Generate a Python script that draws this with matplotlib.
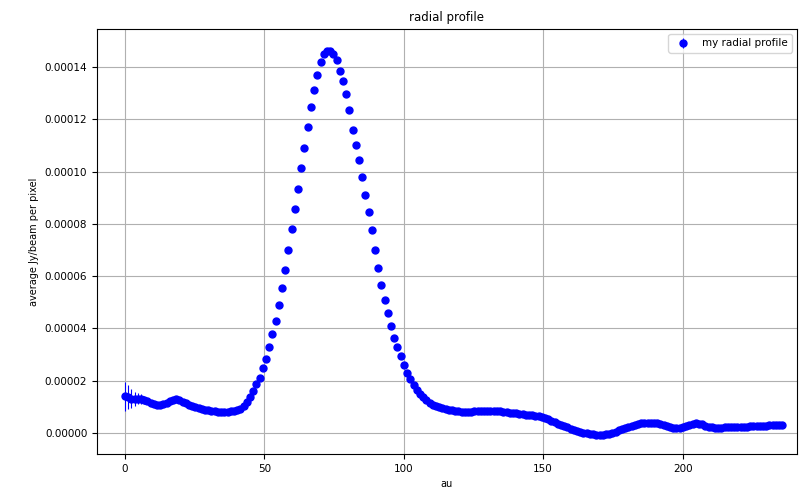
import matplotlib
matplotlib.use("Agg")
import matplotlib.pyplot as plt
import numpy as np

# radial profile, one value per pixel ring (units of 1e-5 Jy/beam)
profile = [
    1.40, 1.38, 1.32, 1.30, 1.32, 1.30, 1.28, 1.22, 1.16, 1.12,
    1.08, 1.07, 1.10, 1.15, 1.22, 1.28, 1.30, 1.26, 1.20, 1.14,
    1.07, 1.02, 0.98, 0.95, 0.92, 0.90, 0.88, 0.86, 0.84, 0.82,
    0.80, 0.80, 0.81, 0.83, 0.85, 0.88, 0.93, 1.02, 1.18, 1.38,
    1.62, 1.88, 2.12, 2.48, 2.85, 3.30, 3.78, 4.30, 4.90, 5.55,
    6.25, 7.00, 7.80, 8.55, 9.35, 10.15, 10.90, 11.70, 12.45, 13.10,
    13.70, 14.20, 14.50, 14.62, 14.60, 14.48, 14.25, 13.85, 13.45, 12.95,
    12.35, 11.60, 11.00, 10.45, 9.80, 9.10, 8.45, 7.75, 7.00, 6.30,
    5.65, 5.10, 4.60, 4.10, 3.65, 3.30, 2.95, 2.60, 2.30, 2.05,
    1.83, 1.65, 1.50, 1.38, 1.26, 1.16, 1.09, 1.03, 0.98, 0.95,
    0.92, 0.90, 0.88, 0.86, 0.84, 0.82, 0.80, 0.80, 0.81, 0.83,
    0.84, 0.84, 0.83, 0.84, 0.86, 0.86, 0.85, 0.84, 0.82, 0.80,
    0.78, 0.77, 0.76, 0.74, 0.72, 0.71, 0.69, 0.68, 0.66, 0.64,
    0.61, 0.58, 0.54, 0.48, 0.42, 0.36, 0.31, 0.26, 0.22, 0.17,
    0.12, 0.08, 0.05, 0.02, 0.00, -0.02, -0.04, -0.06, -0.07, -0.07,
    -0.05, -0.03, 0.01, 0.05, 0.10, 0.15, 0.20, 0.25, 0.29, 0.32,
    0.35, 0.37, 0.38, 0.39, 0.40, 0.39, 0.37, 0.34, 0.30, 0.26,
    0.23, 0.21, 0.20, 0.21, 0.23, 0.27, 0.31, 0.35, 0.37, 0.36,
    0.33, 0.29, 0.25, 0.22, 0.20, 0.20, 0.21, 0.22, 0.23, 0.22,
    0.23, 0.24, 0.24, 0.25, 0.25, 0.26, 0.27, 0.27, 0.28, 0.29,
    0.29, 0.30, 0.31, 0.30, 0.31, 0.30,
]

# uncertainty of the innermost rings, the rest stays small
err_inner = [0.55, 0.45, 0.36, 0.28, 0.22, 0.18, 0.15, 0.12, 0.10, 0.08]
err_outer = 0.03

au_per_pix = 1.15

profile = np.array(profile) * 1e-5
radius = np.arange(len(profile)) * au_per_pix
err = np.full(len(profile), err_outer)
err[:len(err_inner)] = err_inner
err = err * 1e-5

fig = plt.figure(figsize=(8.05, 4.97), dpi=100)
ax = fig.add_axes([0.1205, 0.0865, 0.8695, 0.8551])

ax.errorbar(radius, profile, yerr=err, fmt="bo", markersize=5,
            elinewidth=0.8, label="my radial profile")

ax.set_xlim(-10, 241)
ax.set_ylim(-0.8e-5, 15.45e-5)
ax.grid(True)

ax.set_title("radial profile", fontsize=8.5)
ax.set_xlabel("au", fontsize=7)
ax.set_ylabel("average Jy/beam per pixel", fontsize=7)
ax.tick_params(labelsize=7.5)
ax.legend(loc="upper right", fontsize=7.5)

plt.savefig("out.png", dpi=100)
